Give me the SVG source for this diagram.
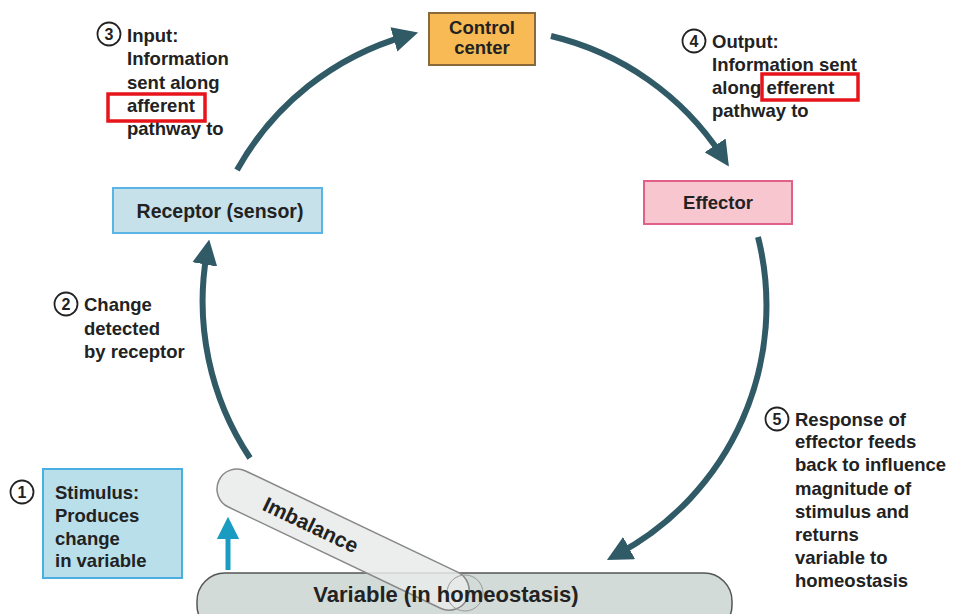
<svg xmlns="http://www.w3.org/2000/svg" width="953" height="614" viewBox="0 0 953 614">
<defs>
<marker id="ah" viewBox="0 0 10 10" refX="5" refY="5" markerWidth="4.2" markerHeight="4.2" orient="auto" markerUnits="strokeWidth">
<path d="M0,0 L10,5 L0,10 z" fill="#2f5a66"/>
</marker>
<marker id="ahb" viewBox="0 0 10 10" refX="5" refY="5" markerWidth="4.5" markerHeight="4.5" orient="auto" markerUnits="strokeWidth">
<path d="M0,0 L10,5 L0,10 z" fill="#1a9cc2"/>
</marker>
</defs>
<style>
text{font-family:"Liberation Sans",Arial,sans-serif;font-weight:bold;fill:#222;}
.t{font-size:18.5px;}
.n{font-size:16px;text-anchor:middle;}
.c{text-anchor:middle;}
.num{fill:none;stroke:#222;stroke-width:1.8;}
.arc{fill:none;stroke:#2f5a66;stroke-width:6;marker-end:url(#ah);}
.red{fill:none;stroke:#e8141c;stroke-width:3.5;}
</style>
<rect width="953" height="614" fill="#fff"/>

<g id="connectors">
<path class="arc" d="M250,458 A282,282 0 0 1 207,252"/>
<path class="arc" d="M237,170 A282,282 0 0 1 406,36"/>
<path class="arc" d="M551,36 A282,282 0 0 1 722,156"/>
<path class="arc" d="M758,237 A282,282 0 0 1 618,554"/>
<line x1="228" y1="570" x2="228" y2="528" stroke="#1a9cc2" stroke-width="5" marker-end="url(#ahb)"/>
</g>

<g id="variable">
<rect x="197" y="573" width="535" height="60" rx="28" fill="#d3dbd8" stroke="#555" stroke-width="1.5"/>
</g>
<g id="imbalance">
<g transform="translate(237,489) rotate(25.5)">
<rect x="-20" y="-20" width="275" height="40" rx="20" fill="#e8ebea" fill-opacity="0.85" stroke="#888" stroke-width="1.5"/>
<text x="82" y="8" style="font-size:21px" class="c">Imbalance</text>
</g>
</g>
<g id="variable-label">
<circle cx="465" cy="593" r="18" fill="none" stroke="#999" stroke-width="1"/>
<text x="446" y="602" class="c" style="font-size:22px">Variable (in homeostasis)</text>
</g>

<g id="control-center">
<rect x="429" y="13" width="106" height="52" fill="#f8ba55" stroke="#8a6a3a" stroke-width="2"/>
<text x="482" y="34" class="t c">Control</text>
<text x="482" y="54" class="t c">center</text>
</g>

<g id="receptor">
<rect x="113" y="188" width="209" height="45" fill="#c6e1ea" stroke="#5ab4e6" stroke-width="2"/>
<text x="220" y="218" class="t c" style="font-size:19.5px">Receptor (sensor)</text>
</g>

<g id="effector">
<rect x="644" y="181" width="148" height="43" fill="#f8c6cf" stroke="#e0608a" stroke-width="2"/>
<text x="718" y="209" class="t c">Effector</text>
</g>

<g id="stimulus">
<rect x="43" y="469" width="139" height="109" fill="#b9dfea" stroke="#4aaee0" stroke-width="2"/>
<circle class="num" cx="22" cy="492" r="11.5"/>
<text x="22" y="498" class="n">1</text>
<text x="55" y="499" class="t">Stimulus:</text>
<text x="55" y="522" class="t">Produces</text>
<text x="55" y="545" class="t">change</text>
<text x="55" y="567" class="t">in variable</text>
</g>

<g id="label2">
<circle class="num" cx="66" cy="304" r="11.5"/>
<text x="66" y="310" class="n">2</text>
<text x="84" y="311" class="t">Change</text>
<text x="84" y="335" class="t">detected</text>
<text x="84" y="358" class="t">by receptor</text>
</g>

<g id="label3">
<circle class="num" cx="109" cy="34" r="11.5"/>
<text x="109" y="40" class="n">3</text>
<text x="127" y="42" class="t">Input:</text>
<text x="127" y="65" class="t">Information</text>
<text x="127" y="89" class="t">sent along</text>
<text x="127" y="112" class="t">afferent</text>
<text x="127" y="135" class="t">pathway to</text>
<rect class="red" x="108" y="94" width="97" height="27"/>
</g>

<g id="label4">
<circle class="num" cx="694" cy="41" r="11.5"/>
<text x="694" y="47" class="n">4</text>
<text x="712" y="48" class="t">Output:</text>
<text x="712" y="71" class="t">Information sent</text>
<text x="712" y="94" class="t">along efferent</text>
<text x="712" y="117" class="t">pathway to</text>
<rect class="red" x="762" y="74" width="96" height="26"/>
</g>

<g id="label5">
<circle class="num" cx="777" cy="419" r="11.5"/>
<text x="777" y="425" class="n">5</text>
<text x="795" y="426" class="t">Response of</text>
<text x="795" y="448" class="t">effector feeds</text>
<text x="795" y="471" class="t">back to influence</text>
<text x="795" y="495" class="t">magnitude of</text>
<text x="795" y="518" class="t">stimulus and</text>
<text x="795" y="541" class="t">returns</text>
<text x="795" y="564" class="t">variable to</text>
<text x="795" y="587" class="t">homeostasis</text>
</g>
</svg>
